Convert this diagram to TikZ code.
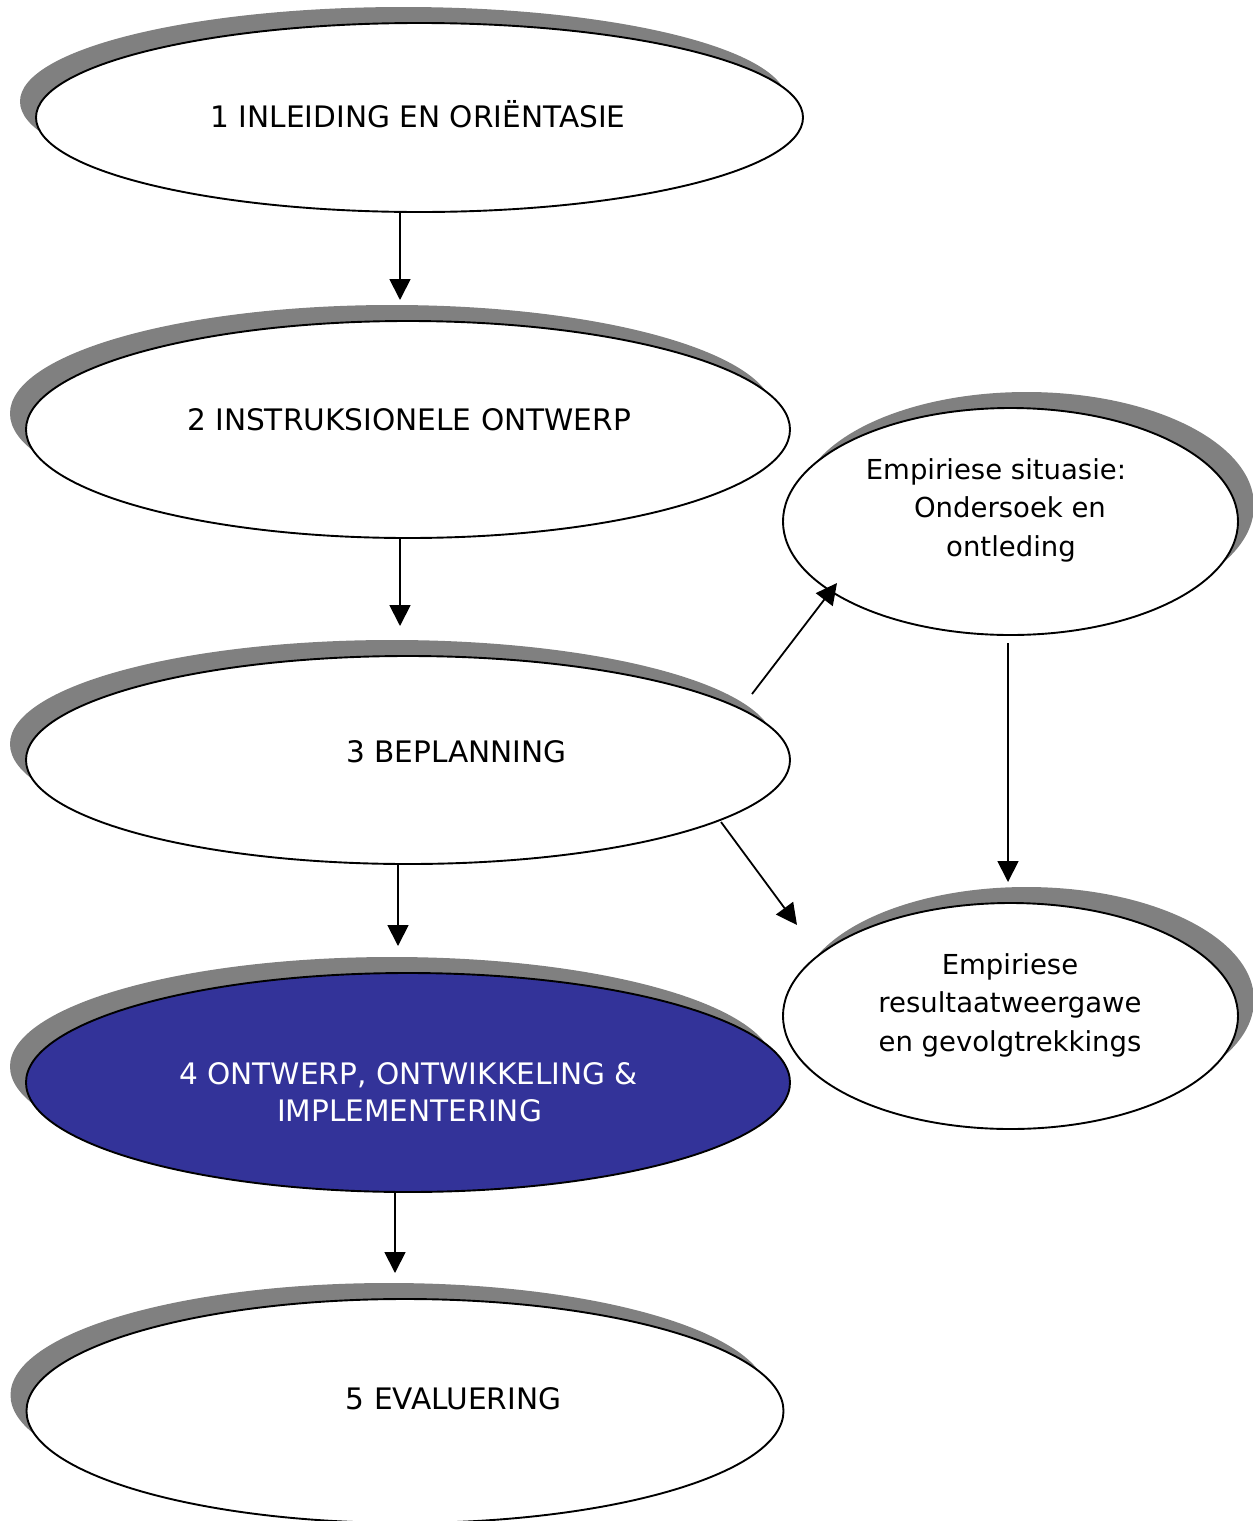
\documentclass[tikz,border=0pt]{standalone}
\usepackage{fontspec}
\setmainfont{DejaVu Sans}
\usetikzlibrary{shapes.geometric,shadows,arrows.meta}
\definecolor{shgray}{HTML}{808080}
\definecolor{stepblue}{HTML}{333399}
\tikzset{
  phase/.style={ellipse, draw=black, line width=1.9pt, fill=white, inner sep=0pt,
    drop shadow={shadow xshift=-16pt, shadow yshift=16pt, opacity=1, fill=shgray}},
  sidephase/.style={ellipse, draw=black, line width=1.9pt, fill=white, inner sep=0pt,
    drop shadow={shadow xshift=16pt, shadow yshift=16pt, opacity=1, fill=shgray}},
  captext/.style={anchor=base, inner sep=0pt, font=\fontsize{29.6}{36}\selectfont},
  lowtext/.style={anchor=base, inner sep=0pt, font=\fontsize{27.5}{33}\selectfont},
  arr/.style={-{Triangle[length=21pt,width=21pt]}, line width=1.8pt}
}
\begin{document}
\begin{tikzpicture}[x=1pt,y=-1pt]
\useasboundingbox (0,0) rectangle (1253,1521);
% main column
\node[phase, minimum width=767pt, minimum height=189pt] (e1) at (419.5,117.5) {};
\node[phase, minimum width=764pt, minimum height=217pt] (e2) at (408,429.5) {};
\node[phase, minimum width=764pt, minimum height=208pt] (e3) at (408,760) {};
\node[phase, fill=stepblue, minimum width=764pt, minimum height=219pt] (e4) at (408,1082.5) {};
\node[phase, minimum width=757pt, minimum height=224pt] (e5) at (405,1411) {};
% side column
\node[sidephase, minimum width=455pt, minimum height=227pt] (r1) at (1010.5,521.5) {};
\node[sidephase, minimum width=455pt, minimum height=226pt] (r2) at (1010.5,1016) {};
% texts
\node[captext] (t1) at (418,127) {1 INLEIDING EN ORIËNTASIE};
\node[captext] (t2) at (409,430) {2 INSTRUKSIONELE ONTWERP};
\node[captext] (t3) at (456.5,762) {3 BEPLANNING};
\node[captext, text=white] (t4a) at (408.5,1084) {4 ONTWERP, ONTWIKKELING \&};
\node[captext, text=white] (t4b) at (409.5,1121) {IMPLEMENTERING};
\node[captext] (t5) at (453.5,1409) {5 EVALUERING};
\node[lowtext] (r1a) at (996,479) {Empiriese situasie:};
\node[lowtext] (r1b) at (1010,517) {Ondersoek en};
\node[lowtext] (r1c) at (1011,556) {ontleding};
\node[lowtext] (r2a) at (1010,974) {Empiriese};
\node[lowtext] (r2b) at (1010,1012) {resultaatweergawe};
\node[lowtext] (r2c) at (1010,1051) {en gevolgtrekkings};
% arrow ends
\coordinate (p1) at (400,300);
\coordinate (p2) at (400,626);
\coordinate (p3) at (398,946);
\coordinate (p4) at (395,1273);
\coordinate (s5) at (752,694);
\coordinate (p5) at (837,583);
\coordinate (s6) at (721,822);
\coordinate (p6) at (797,925);
\coordinate (s7) at (1008,643);
\coordinate (p7) at (1008,882);
% connectors
\draw[arr] (e1.south -| p1) -- (p1);
\draw[arr] (e2.south -| p2) -- (p2);
\draw[arr] (e3.south -| p3) -- (p3);
\draw[arr] (e4.south -| p4) -- (p4);
\draw[arr] (s5) -- (p5);
\draw[arr] (s6) -- (p6);
\draw[arr] (s7) -- (p7);
\end{tikzpicture}
\end{document}
